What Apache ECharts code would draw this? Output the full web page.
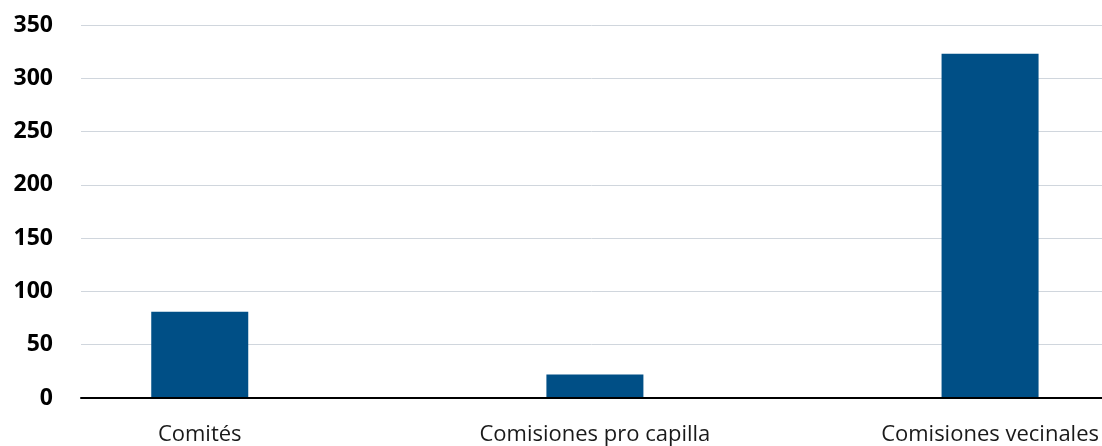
<!DOCTYPE html>
<html>
<head>
<meta charset="utf-8">
<script src="https://cdn.jsdelivr.net/npm/echarts@6/dist/echarts.min.js"></script>
<style>
html,body{margin:0;padding:0;background:#fff;}
#chart{width:1102px;height:446px;}
</style>
</head>
<body>
<div id="chart"></div>
<script>
const categories = ['Comités', 'Comisiones pro capilla', 'Comisiones vecinales'];
const values = [81, 22, 323];
const yMin = 0, yMax = 350, yStep = 50;

const chart = echarts.init(document.getElementById('chart'), null, {renderer: 'canvas'});
chart.setOption({
  animation: false,
  backgroundColor: '#ffffff',
  grid: [
    {left: 81, right: 0, top: 25, bottom: 48},
    {left: 199.75, right: 109.25, top: 25, bottom: 48}
  ],
  xAxis: [
    {
      gridIndex: 0, type: 'category', data: categories, z: 5,
      axisLine: {show: true, lineStyle: {color: '#000000', width: 2}},
      axisTick: {show: false}, axisLabel: {show: false}, splitLine: {show: false}
    },
    {
      gridIndex: 1, type: 'category', data: categories, boundaryGap: false,
      axisLine: {show: false}, axisTick: {show: false}, splitLine: {show: false},
      axisLabel: {interval: 0, margin: 26, color: '#1a1a1a', fontSize: 22, fontFamily: 'Open Sans'}
    }
  ],
  yAxis: [
    {
      gridIndex: 0, type: 'value', min: yMin, max: yMax, interval: yStep,
      axisLine: {show: false}, axisTick: {show: false},
      axisLabel: {margin: 28, color: '#000000', fontSize: 23, fontWeight: 'bold', fontFamily: 'Open Sans'},
      splitLine: {show: true, lineStyle: {color: '#d0d6dd', width: 1}}
    },
    {
      gridIndex: 1, type: 'value', min: yMin, max: yMax, interval: yStep, show: false,
      splitLine: {show: false}
    }
  ],
  series: [{
    type: 'bar', xAxisIndex: 1, yAxisIndex: 1,
    data: values, barWidth: 97,
    itemStyle: {color: '#004f86'}
  }]
});
</script>
</body>
</html>
